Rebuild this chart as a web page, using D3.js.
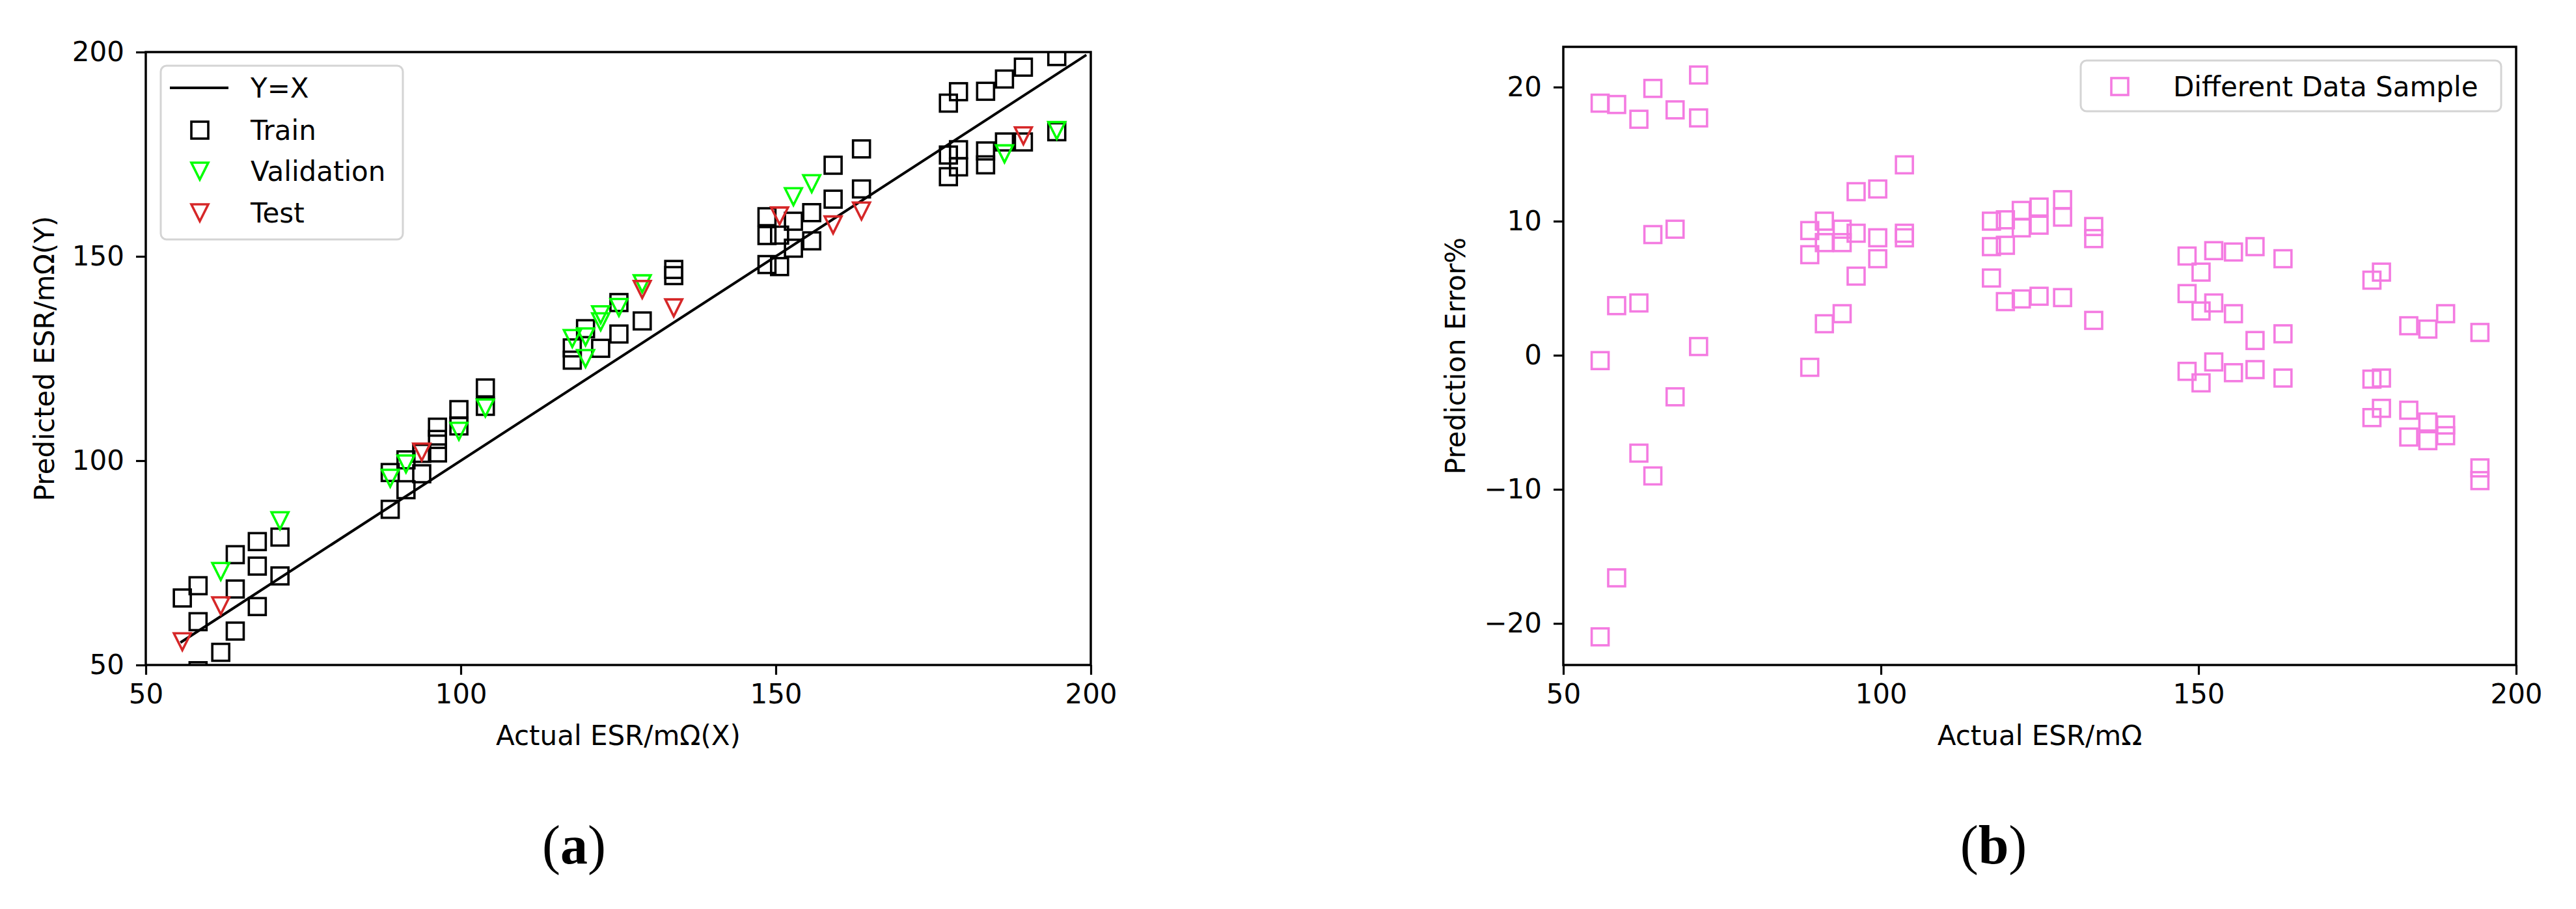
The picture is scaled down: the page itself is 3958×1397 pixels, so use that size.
<!DOCTYPE html>
<html><head><meta charset="utf-8">
<script src="https://cdn.jsdelivr.net/npm/d3@7"></script>
<style>body{margin:0;background:#fff}svg{display:block}</style>
</head><body>
<svg id="c" width="3958" height="1397"></svg>
<script>
// ---------- DATA ----------
const xTicks = [50, 100, 150, 200];
const yTicksA = [50, 100, 150, 200];
const yTicksB = [-20, -10, 0, 10, 20];
const yxLine = [55.5, 199.3];
const train = [
 [55.8,66.4],[55.8,44.1],[58.3,69.4],[58.3,60.6],[58.3,48.6],[61.9,53.1],[64.2,77.0],[64.2,68.6],[64.2,58.3],
 [67.7,80.2],[67.7,74.2],[67.7,64.3],[71.3,81.3],[71.3,71.8],
 [88.8,88.1],[88.8,97.1],[91.3,92.9],[91.3,100.2],[93.8,96.8],[93.8,101.8],[96.3,108.2],[96.3,105.2],[96.3,101.9],
 [99.7,112.5],[99.7,108.5],[103.9,117.8],[103.9,113.3],
 [117.7,127.6],[117.7,124.6],[119.8,132.3],[122.2,127.5],[125.1,131.0],[125.1,138.7],[128.8,134.2],[133.8,146.8],[133.8,145.3],
 [148.6,159.7],[148.6,155.1],[148.6,148.0],[150.6,155.2],[150.6,147.5],[152.8,158.6],[152.8,152.0],[155.7,160.7],[155.7,153.8],
 [159.1,172.3],[159.1,164.0],[163.6,176.3],[163.6,166.5],
 [177.4,187.5],[177.4,174.8],[177.4,169.5],[179.0,190.3],[179.0,176.1],[179.0,171.9],[183.3,190.4],[183.3,175.8],[183.3,172.4],
 [186.3,193.4],[186.3,178.0],[189.3,196.3],[189.3,178.0],[194.6,198.9],[194.6,180.5]
];
const validation = [
 [61.9,72.9],[71.3,85.3],[88.8,95.7],[91.3,99.2],[99.7,107.2],[103.9,112.9],[117.7,129.9],[119.8,130.3],[119.8,125.0],
 [122.2,135.7],[122.2,134.0],[125.1,137.5],[128.8,143.3],[152.8,164.6],[155.7,167.8],[186.3,175.1],[194.6,180.8]
];
const test = [
 [55.8,55.7],[61.9,64.5],[93.8,102.1],[128.8,141.9],[133.8,137.4],[150.6,159.9],[159.1,157.7],[163.6,161.1],[189.3,179.5]
];
const errorSamples = [
 [55.8,18.8],[55.8,-0.4],[55.8,-21.0],[58.4,18.7],[58.4,3.7],[58.4,-16.6],[61.9,17.6],[61.9,3.9],[61.9,-7.3],
 [64.1,19.9],[64.1,9.0],[64.1,-9.0],[67.6,18.3],[67.6,9.4],[67.6,-3.1],[71.3,20.9],[71.3,17.7],[71.3,0.65],
 [88.8,9.3],[88.8,7.5],[88.8,-0.9],[91.1,10.0],[91.1,8.4],[91.1,2.35],[93.9,9.4],[93.9,8.4],[93.9,3.1],
 [96.1,12.2],[96.1,9.1],[96.1,5.9],[99.5,12.4],[99.5,8.76],[99.5,7.2],[103.7,14.2],[103.7,9.1],[103.7,8.76],
 [117.4,10.0],[117.4,8.1],[117.4,5.76],[119.6,10.1],[119.6,8.2],[119.6,4.0],[122.1,10.8],[122.1,9.5],[122.1,4.2],
 [124.9,11.05],[124.9,9.7],[124.9,4.4],[128.6,11.6],[128.6,10.3],[128.6,4.3],[133.5,9.6],[133.5,8.7],[133.5,2.6],
 [148.2,7.4],[148.2,4.6],[148.2,-1.2],[150.4,6.2],[150.4,3.3],[150.4,-2.06],[152.4,7.8],[152.4,3.9],[152.4,-0.5],
 [155.5,7.7],[155.5,3.1],[155.5,-1.3],[158.9,8.1],[158.9,1.1],[158.9,-1.07],[163.3,7.2],[163.3,1.6],[163.3,-1.7],
 [177.3,5.6],[177.3,-1.78],[177.3,-4.65],[178.8,6.2],[178.8,-1.7],[178.8,-3.96],[183.1,2.2],[183.1,-4.1],[183.1,-6.1],
 [186.1,1.95],[186.1,-4.98],[186.1,-6.37],[188.9,3.1],[188.9,-5.2],[188.9,-6.0],[194.3,1.7],[194.3,-8.4],[194.3,-9.35]
];
const labelsA = {x: "Actual ESR/mΩ(X)", y: "Predicted ESR/mΩ(Y)"};
const labelsB = {x: "Actual ESR/mΩ", y: "Prediction Error%"};
const legendA = ["Y=X", "Train", "Validation", "Test"];
const legendB = ["Different Data Sample"];
const captions = ["a", "b"];

// ---------- DRAW ----------
const svg = d3.select("#c");
const FS = 42;
const SANS = '"DejaVu Sans", sans-serif';
const C = {train:"#000", val:"#00ff00", test:"#d62728", pink:"#f47be1"};
const SQ = 26, SW = 3.6;

function sq(g, x, y, color) {
  g.append("rect").attr("x", x - SQ/2).attr("y", y - SQ/2).attr("width", SQ).attr("height", SQ)
   .attr("fill", "none").attr("stroke", color).attr("stroke-width", SW);
}
function tri(g, x, y, color) {
  const h = 13;
  g.append("path").attr("d", `M${x-h},${y-h}L${x+h},${y-h}L${x},${y+h}Z`)
   .attr("fill", "none").attr("stroke", color).attr("stroke-width", SW).attr("stroke-linejoin","miter");
}
function txt(g) { return g.append("text").style("font-family", SANS).attr("font-size", FS).attr("fill", "#000"); }

function panel(id, x0, x1, y0, y1, ydom, yticks, labels, yLabelX) {
  const xs = d3.scaleLinear().domain([50,200]).range([x0,x1]);
  const ys = d3.scaleLinear().domain(ydom).range([y1,y0]);
  const g = svg.append("g");
  g.append("clipPath").attr("id", id).append("rect").attr("x", x0).attr("y", y0).attr("width", x1-x0).attr("height", y1-y0);
  const ax = g.append("g").attr("transform", `translate(0,${y1})`)
    .call(d3.axisBottom(xs).tickValues(xTicks).tickSize(15).tickPadding(14).tickFormat(d3.format("d")));
  const ay = g.append("g").attr("transform", `translate(${x0},0)`)
    .call(d3.axisLeft(ys).tickValues(yticks).tickSize(15).tickPadding(18).tickFormat(d => d < 0 ? "\u2212" + Math.abs(d) : d));
  [ax, ay].forEach(a => {
    a.select(".domain").remove();
    a.selectAll(".tick line").attr("stroke", "#000").attr("stroke-width", 3.2);
    a.selectAll(".tick text").attr("font-size", FS).attr("fill", "#000").style("font-family", SANS);
  });
  g.append("rect").attr("x", x0).attr("y", y0).attr("width", x1-x0).attr("height", y1-y0)
    .attr("fill", "none").attr("stroke", "#000").attr("stroke-width", 3.5);
  txt(g).attr("x", (x0+x1)/2).attr("y", 1145).attr("text-anchor", "middle").text(labels.x);
  txt(g).attr("transform", `translate(${yLabelX},${(y0+y1)/2}) rotate(-90)`)
    .attr("text-anchor", "middle").attr("dominant-baseline", "central").text(labels.y);
  const plot = g.append("g").attr("clip-path", `url(#${id})`);
  return {xs, ys, plot, g};
}

// Panel (a)
const A = panel("clipA", 224, 1676, 80, 1022, [50,200], yTicksA, labelsA, 68);
A.plot.append("line").attr("x1", A.xs(yxLine[0])).attr("y1", A.ys(yxLine[0]))
  .attr("x2", A.xs(yxLine[1])).attr("y2", A.ys(yxLine[1])).attr("stroke", "#000").attr("stroke-width", 4);
train.forEach(d => sq(A.plot, A.xs(d[0]), A.ys(d[1]), C.train));
validation.forEach(d => tri(A.plot, A.xs(d[0]), A.ys(d[1]), C.val));
test.forEach(d => tri(A.plot, A.xs(d[0]), A.ys(d[1]), C.test));

// legend a
const la = A.g.append("g");
la.append("rect").attr("x", 247).attr("y", 101).attr("width", 372).attr("height", 267).attr("rx", 9)
  .attr("fill", "#fff").attr("fill-opacity", 0.8).attr("stroke", "#d4d4d4").attr("stroke-width", 3);
const ly = [135, 200, 263, 327];
la.append("line").attr("x1", 261).attr("x2", 351).attr("y1", ly[0]).attr("y2", ly[0]).attr("stroke", "#000").attr("stroke-width", 4);
sq(la, 307, ly[1], C.train);
tri(la, 307, ly[2], C.val);
tri(la, 307, ly[3], C.test);
legendA.forEach((t, i) => txt(la).attr("x", 385).attr("y", ly[i]).attr("dominant-baseline", "central").text(t));

// Panel (b)
const B = panel("clipB", 2402, 3866, 72, 1022, [-23.1, 23.0], yTicksB, labelsB, 2236);
errorSamples.forEach(d => sq(B.plot, B.xs(d[0]), B.ys(d[1]), C.pink));
const lb = B.g.append("g");
lb.append("rect").attr("x", 3197).attr("y", 93).attr("width", 646).attr("height", 78).attr("rx", 9)
  .attr("fill", "#fff").attr("fill-opacity", 0.8).attr("stroke", "#d4d4d4").attr("stroke-width", 3);
sq(lb, 3257, 133, C.pink);
txt(lb).attr("x", 3339).attr("y", 133).attr("dominant-baseline", "central").text(legendB[0]);

// captions
[[captions[0], 882], [captions[1], 3063]].forEach(([t, x]) => {
  const tx = svg.append("text").attr("x", x).attr("y", 1327).attr("text-anchor", "middle")
    .style("font-family", '"Liberation Serif", serif').attr("font-size", 84).attr("fill", "#000");
  tx.append("tspan").text("(");
  tx.append("tspan").attr("font-weight", "bold").text(t);
  tx.append("tspan").text(")");
});
</script>
</body></html>
